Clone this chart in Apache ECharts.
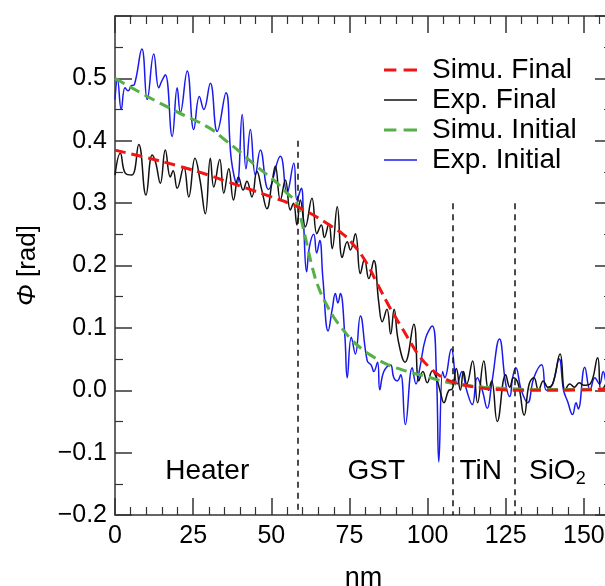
<!DOCTYPE html>
<html lang="en">
<head>
    <meta charset="UTF-8">
    <script src="https://cdn.jsdelivr.net/npm/echarts@6/dist/echarts.min.js"></script>
    <style>
        * {
            margin: 0;
            padding: 0;
        }

        body {
            background-color: #fff;
        }

        #main {
            width: 605px;
            height: 586px;
        }
    </style>
    <title>Phase profile</title>
</head>
<body>
    <div id="main"></div>
</body>
<script>
    // legend names
    var names = ['Simu. Final', 'Exp. Final', 'Simu. Initial', 'Exp. Initial'];

    // simulated curves [nm, rad]
    var simuFinal = [[0, 0.385], [10, 0.373], [20, 0.36], [30, 0.345], [35, 0.336], [42, 0.324], [50, 0.31],
        [56.6, 0.298], [62, 0.285], [67, 0.27], [73, 0.25], [76, 0.235], [80, 0.208], [84, 0.17], [88, 0.132],
        [92.4, 0.095], [95, 0.073], [97.8, 0.052], [101, 0.035], [104, 0.023], [107, 0.015], [109.5, 0.011],
        [114, 0.006], [118, 0.003], [123, 0.001], [128, 0], [140, 0], [159, 0.002]];
    var simuInitial = [[0, 0.5], [10, 0.472], [20, 0.446], [30, 0.421], [35, 0.402], [40, 0.382], [46, 0.356],
        [51, 0.336], [55, 0.316], [58.2, 0.3], [59.5, 0.275], [61, 0.243], [63.6, 0.188], [65.5, 0.16],
        [67.3, 0.141], [70, 0.117], [72.7, 0.099], [75.3, 0.083], [79, 0.066], [82.8, 0.053], [86, 0.044],
        [90, 0.036], [95, 0.028], [99, 0.023], [103, 0.017], [107, 0.012], [112, 0.008], [118, 0.005],
        [125, 0.003], [135, 0.001], [159, 0.002]];

    // measured curves [nm, rad]
    var expFinal = [[0, 0.345], [1.7, 0.38], [3.3, 0.348], [5.4, 0.345], [7.6, 0.394], [9.9, 0.313],
        [11.9, 0.377], [13, 0.365], [14.5, 0.332], [16.1, 0.385], [17.7, 0.342], [18.6, 0.352], [19.9, 0.324],
        [22, 0.358], [23.6, 0.31], [25.6, 0.372], [27.2, 0.337], [28.9, 0.283], [30.5, 0.372], [31.6, 0.326],
        [33.5, 0.37], [34.8, 0.316], [36.4, 0.355], [37.9, 0.305], [39.5, 0.342], [41, 0.321], [42.2, 0.335],
        [43.8, 0.31], [45.4, 0.351], [47, 0.32], [48.6, 0.291], [50.2, 0.332], [51.3, 0.359], [52.9, 0.305],
        [54.5, 0.337], [56.1, 0.289], [57.1, 0.3], [58.2, 0.265], [59.3, 0.305], [60.9, 0.262], [63, 0.308],
        [64.6, 0.251], [66, 0.265], [67, 0.245], [68.4, 0.267], [69.5, 0.227], [71.1, 0.294], [72.7, 0.213],
        [74.3, 0.238], [75.3, 0.225], [76.9, 0.251], [78.5, 0.187], [79.8, 0.21], [81.2, 0.179], [82.8, 0.208],
        [84.4, 0.14], [85.5, 0.11], [87, 0.13], [88.2, 0.09], [89.3, 0.13], [90.6, 0.08], [92.8, 0.045],
        [95.6, 0.106], [97.2, 0.015], [98.5, 0.03], [99.9, 0.012], [101.5, 0.031], [102.8, 0.02], [104.2, -0.005],
        [105.2, -0.02], [106.8, 0.0], [107.9, 0.002], [109.2, 0.035], [110.5, 0.0], [111.5, 0.03], [112.5, 0.01],
        [114.4, 0.047], [116, -0.02], [118, 0.047], [119.5, 0.0], [120.5, 0.015], [122.3, -0.05], [125, 0.025],
        [126.3, 0.005], [127.5, 0.02], [129, 0.01], [130.9, -0.04], [132.5, 0.01], [134, 0.02], [135.5, 0.0],
        [137, 0.015], [138.5, 0.005], [140, 0.01], [142.4, 0.058], [144, 0.0], [145.5, 0.01], [147, 0.005],
        [148.5, 0.012], [150, 0.008], [152, 0.01], [154.4, 0.052], [155.5, 0.0], [157, 0.01], [158, 0.03],
        [159, 0.0]];
    var expInitial = [[0, 0.466], [0.8, 0.498], [2, 0.45], [3.2, 0.485], [4.2, 0.48], [5.2, 0.488], [6.2, 0.49],
        [8.6, 0.547], [10.3, 0.466], [12.4, 0.539], [14, 0.485], [14.9, 0.495], [16.1, 0.506], [18.3, 0.407],
        [19.9, 0.485], [20.9, 0.445], [23.1, 0.512], [25.2, 0.418], [27, 0.471], [28.4, 0.45], [30.5, 0.492],
        [32.7, 0.415], [35.5, 0.477], [37.2, 0.37], [39, 0.33], [40.7, 0.442], [41.9, 0.355], [43.3, 0.418],
        [44.9, 0.345], [46.5, 0.385], [49.1, 0.322], [52.9, 0.375], [55, 0.316], [57.2, 0.364], [58.2, 0.305],
        [59.6, 0.324], [60.3, 0.27], [61.3, 0.19], [62.2, 0.23], [63.6, 0.25], [64.5, 0.22], [65.5, 0.24],
        [66.5, 0.18], [68.2, 0.095], [69.5, 0.13], [70.5, 0.155], [71.3, 0.14], [72.1, 0.155], [73.5, 0.09],
        [74.3, 0.02], [75.6, 0.085], [76.9, 0.058], [78.5, 0.119], [80.7, 0.047], [82, 0.04], [82.8, 0.03],
        [84, 0.045], [84.7, 0.001], [86, 0.03], [88.1, 0.041], [89.2, 0.02], [90.3, 0.015], [91.4, 0.025],
        [92.9, -0.055], [95.1, 0.036], [96.3, 0.01], [97.5, 0.035], [99.4, 0.084], [101.5, 0.103], [102.8, 0.03],
        [103.6, -0.115], [104.8, 0.03], [105.5, 0.02], [107.6, 0.066], [109.5, 0.01], [111, 0.03], [112.5, 0.0],
        [114.3, -0.023], [115.9, 0.02], [117.5, 0.0], [119.1, -0.029], [120.5, 0.01], [123, 0.082], [125, 0.01],
        [126.3, -0.01], [127.2, 0.02], [128.2, 0.036], [130, 0.0], [132, -0.02], [134, 0.02], [136.5, 0.041],
        [138, 0.0], [140, 0.01], [142.1, 0.05], [143.5, 0.0], [144.8, -0.018], [146.4, -0.039], [147.5, -0.02],
        [148.2, -0.03], [150.3, 0.037], [152, 0.0], [153.5, 0.02], [155, 0.01], [156.2, 0.03], [157.5, 0.01],
        [159, 0.02]];

    // layer boundaries and labels
    var boundaryNm = [58.5, 108, 128];
    var boundaryTop = [0.4, 0.3, 0.3];
    var regionNames = ['Heater', 'GST', 'TiN', 'SiO{s|2}'];
    var regionNm = [29.5, 83.6, 117, 141.5];
    var regionPhi = [-0.13, -0.13, -0.13, -0.13];

    var font = 'Liberation Sans, Arial, sans-serif';
    var axisColor = '#333';
    var dashIcon = 'path://M0,0 L12,0 L12,3 L0,3 Z M19,0 L32,0 L32,3 L19,3 Z';
    var lineIcon = 'path://M0,0 L32,0 L32,1.5 L0,1.5 Z';

    var marks = [];
    boundaryNm.forEach(function (x, i) {
        marks.push([{ coord: [x, boundaryTop[i]] }, { coord: [x, -0.2] }]);
    });
    var labels = regionNm.map(function (x, i) {
        return { value: [x, regionPhi[i]], name: regionNames[i] };
    });

    function baseX(pos) {
        return {
            type: 'value', position: pos, min: 0, max: 159, interval: 25,
            axisLine: { show: true, onZero: false, lineStyle: { color: axisColor, width: 1.5 } },
            axisTick: { show: true, inside: true, length: 17, lineStyle: { color: axisColor, width: 1.5 } },
            minorTick: { show: true, splitNumber: 5, length: 8, lineStyle: { color: axisColor, width: 1.2 } },
            splitLine: { show: false },
            axisLabel: {
                show: pos === 'bottom', margin: 9, fontSize: 25, color: '#000', fontFamily: font,
                formatter: function (v) { return v % 25 === 0 ? String(v) : ''; }
            }
        };
    }
    function baseY(pos) {
        return {
            type: 'value', position: pos, min: -0.2, max: 0.6, interval: 0.1,
            axisLine: { show: true, onZero: false, lineStyle: { color: axisColor, width: 1.5 } },
            axisTick: { show: true, inside: true, length: 17, lineStyle: { color: axisColor, width: 1.5 } },
            minorTick: { show: true, splitNumber: 2, length: 8, lineStyle: { color: axisColor, width: 1.2 } },
            splitLine: { show: false },
            axisLabel: {
                show: pos === 'left', margin: 8, fontSize: 25, color: '#000', fontFamily: font,
                formatter: function (v) {
                    if (v > 0.55) return '';
                    return (v < -0.001 ? '\u2212' : '') + Math.abs(v).toFixed(1);
                }
            }
        };
    }

    var xBottom = baseX('bottom');
    xBottom.name = 'nm';
    xBottom.nameLocation = 'middle';
    xBottom.nameGap = 50;
    xBottom.nameTextStyle = { fontSize: 27, color: '#000', fontFamily: font };
    var yLeft = baseY('left');
    yLeft.name = '{i|Φ} [rad]';
    yLeft.nameLocation = 'middle';
    yLeft.nameGap = 74;
    yLeft.nameTextStyle = {
        fontSize: 26, color: '#000', fontFamily: font,
        rich: { i: { fontSize: 26, fontStyle: 'italic', color: '#000', fontFamily: font } }
    };

    var myChart = echarts.init(document.getElementById('main'), null, { renderer: 'canvas' });
    var option = {
        animation: false,
        backgroundColor: '#fff',
        grid: { left: 115, right: -7, top: 16, bottom: 71, containLabel: false, outerBoundsMode: 'none' },
        legend: {
            orient: 'vertical', left: 379, top: 51, itemGap: 2,
            itemWidth: 33, itemHeight: 14,
            textStyle: { fontSize: 28, color: '#000', fontFamily: font, padding: [0, 0, 0, 10] },
            data: [
                { name: names[0], icon: dashIcon },
                { name: names[1], icon: lineIcon },
                { name: names[2], icon: dashIcon },
                { name: names[3], icon: lineIcon }
            ]
        },
        xAxis: [xBottom, baseX('top')],
        yAxis: [yLeft, baseY('right')],
        series: [
            {
                name: 'Exp. Initial', type: 'line', data: expInitial, smooth: 0.45, showSymbol: false, symbol: 'none',
                z: 2, lineStyle: { color: '#1a1aee', width: 1.5 }, itemStyle: { color: '#1a1aee' }
            },
            {
                name: 'Exp. Final', type: 'line', data: expFinal, smooth: 0.45, showSymbol: false, symbol: 'none',
                z: 3, lineStyle: { color: '#111', width: 1.5 }, itemStyle: { color: '#111' }
            },
            {
                name: 'Simu. Initial', type: 'line', data: simuInitial, smooth: true, showSymbol: false, symbol: 'none',
                z: 4, lineStyle: { color: '#55b047', width: 3, type: [11, 6] }, itemStyle: { color: '#55b047' }
            },
            {
                name: 'Simu. Final', type: 'line', data: simuFinal, smooth: true, showSymbol: false, symbol: 'none',
                z: 5, lineStyle: { color: '#f01414', width: 3, type: [11, 6] }, itemStyle: { color: '#f01414' },
                markLine: {
                    silent: true, symbol: 'none', animation: false,
                    label: { show: false },
                    lineStyle: { color: '#111', width: 1.5, type: [6, 5] },
                    data: marks
                }
            },
            {
                type: 'scatter', data: labels, symbolSize: 0, silent: true, z: 6,
                itemStyle: { color: '#000', opacity: 1 },
                label: {
                    show: true, position: 'inside', fontSize: 28, color: '#000', fontFamily: font,
                    textBorderWidth: 0, opacity: 1,
                    formatter: function (p) { return p.name; },
                    rich: { s: { fontSize: 18, color: '#000', fontFamily: font, textBorderWidth: 0, padding: [16, 0, 0, 0] } }
                }
            }
        ]
    };
    myChart.setOption(option);
</script>
</html>
